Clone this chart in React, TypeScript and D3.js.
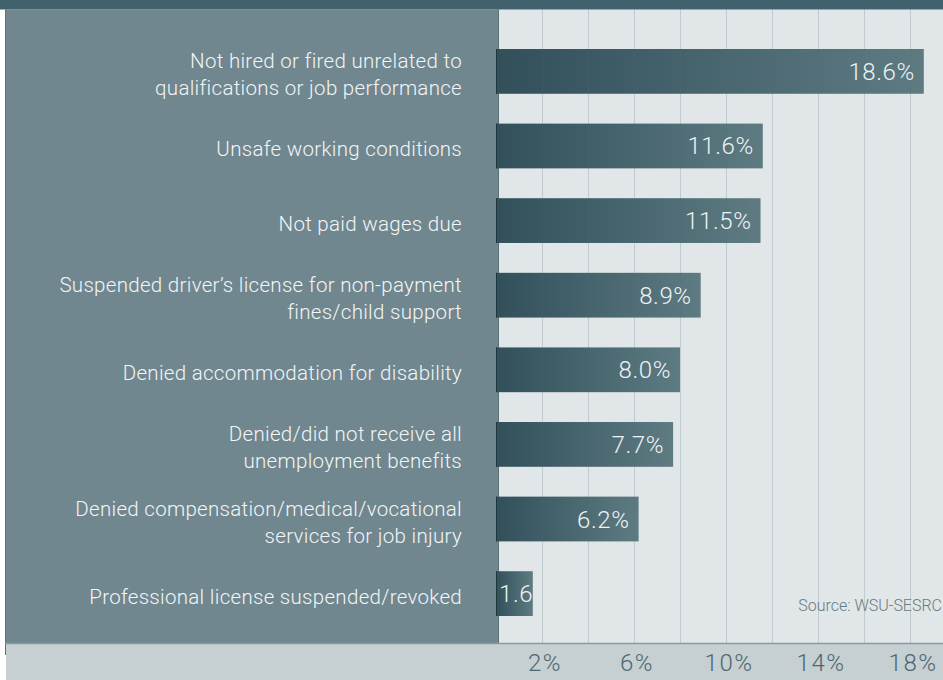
import React from "react";
import * as d3 from "d3";

const categories: string[] = [
  "Not hired or fired unrelated to\nqualifications or job performance",
  "Unsafe working conditions",
  "Not paid wages due",
  "Suspended driver\u2019s license for non-payment\nfines/child support",
  "Denied accommodation for disability",
  "Denied/did not receive all\nunemployment benefits",
  "Denied compensation/medical/vocational\nservices for job injury",
  "Professional license suspended/revoked",
];
const values: number[] = [18.6, 11.6, 11.5, 8.9, 8.0, 7.7, 6.2, 1.6];
const valueLabels: string[] = ["18.6%", "11.6%", "11.5%", "8.9%", "8.0%", "7.7%", "6.2%", "1.6%"];
const gridTicks: number[] = [2, 4, 6, 8, 10, 12, 14, 16, 18, 20];
const axisTicks: number[] = [2, 6, 10, 14, 18];
const sourceText = "Source: WSU-SESRC";

const W = 943;
const H = 680;
const FONT = "Roboto, 'Noto Sans', sans-serif";

export default function App() {
  const topBand = 9.5;
  const panelLeft = 5;
  const panelRight = 499;
  const axisTop = 643;

  const x = d3.scaleLinear().domain([0, 20]).range([496, 956]);
  const y = d3
    .scaleBand<number>()
    .domain(d3.range(values.length))
    .range([49, 616])
    .paddingInner(0.4)
    .paddingOuter(0);
  const bw = y.bandwidth();

  return (
    <svg
      width={W}
      height={H}
      viewBox={`0 0 ${W} ${H}`}
      style={{ position: "absolute", left: 0, top: 0, display: "block" }}
    >
      <defs>
        <linearGradient id="barGrad" x1="0" x2="1" y1="0" y2="0">
          <stop offset="0%" stopColor="#31505a" />
          <stop offset="100%" stopColor="#5e7b82" />
        </linearGradient>
        {values.map((v, i) => (
          <clipPath id={`clip${i}`} key={i}>
            <rect x={x(0)} y={y(i)} width={x(v) - x(0)} height={bw} />
          </clipPath>
        ))}
      </defs>
      <rect x={0} y={0} width={W} height={H} fill="#ffffff" />
      {/* plot background */}
      <rect x={panelRight} y={topBand} width={W - panelRight} height={axisTop - topBand} fill="#e1e6e8" />
      {/* left panel */}
      <rect x={panelLeft} y={topBand} width={panelRight - panelLeft} height={axisTop - topBand} fill="#70878f" />
      <line x1={panelLeft + 0.5} x2={panelLeft + 0.5} y1={topBand} y2={655} stroke="#5b7077" strokeWidth={1} />
      <line x1={panelRight - 0.5} x2={panelRight - 0.5} y1={topBand} y2={axisTop} stroke="#5b7077" strokeWidth={1} />
      {/* top band */}
      <rect x={0} y={0} width={W} height={topBand} fill="#41616c" />
      {/* bottom axis band */}
      <rect x={panelLeft + 1} y={axisTop} width={W - panelLeft - 1} height={H - axisTop} fill="#c6cfd2" />
      <line x1={panelLeft} x2={W} y1={axisTop + 0.5} y2={axisTop + 0.5} stroke="#869aa0" strokeWidth={1.5} />

      {/* bars */}
      {values.map((v, i) => (
        <g key={i}>
          <rect x={x(0)} y={y(i)} width={x(v) - x(0)} height={bw} fill="url(#barGrad)" />
          <line x1={x(0) + 0.5} x2={x(0) + 0.5} y1={y(i)!} y2={y(i)! + bw} stroke="#1e363c" strokeWidth={1} />
        </g>
      ))}

      {/* gridlines */}
      {gridTicks.map((t) => (
        <line
          key={t}
          x1={Math.round(x(t)) + 0.5}
          x2={Math.round(x(t)) + 0.5}
          y1={topBand}
          y2={axisTop}
          stroke="#4f6e76"
          strokeOpacity={0.22}
          strokeWidth={1}
        />
      ))}

      {/* value labels */}
      {values.map((v, i) => {
        const w = x(v) - x(0);
        const fits = w > 70;
        return (
          <text
            key={i}
            x={fits ? x(v) - 9 : x(0) + 3}
            y={y(i)! + bw / 2 + 8.5}
            textAnchor={fits ? "end" : "start"}
            fill="#eef2f3"
            fontFamily={FONT}
            fontWeight={300}
            fontSize={24}
            letterSpacing={0.6}
            clipPath={fits ? undefined : `url(#clip${i})`}
          >
            {valueLabels[i]}
          </text>
        );
      })}

      {/* category labels */}
      {categories.map((c, i) => {
        const lines = c.split("\n");
        const lh = 27;
        const cy = y(i)! + bw / 2 + 3;
        const first = cy - ((lines.length - 1) * lh) / 2 + 7;
        return (
          <text
            key={i}
            textAnchor="end"
            fill="#f3f5f6"
            fontFamily={FONT}
            fontWeight={300}
            fontSize={20.5}
            letterSpacing={0.3}
          >
            {lines.map((ln, j) => (
              <tspan key={j} x={462} y={first + j * lh}>
                {ln}
              </tspan>
            ))}
          </text>
        );
      })}

      {/* source */}
      <text x={942} y={611} textAnchor="end" fill="#6a7a80" fontFamily={FONT} fontWeight={300} fontSize={16}>
        {sourceText}
      </text>

      {/* axis labels */}
      {axisTicks.map((t) => (
        <text
          key={t}
          x={x(t) + 3}
          y={671}
          textAnchor="middle"
          fill="#4d6870"
          fontFamily={FONT}
          fontWeight={300}
          fontSize={24}
          letterSpacing={1.5}
        >
          {`${t}%`}
        </text>
      ))}
    </svg>
  );
}
